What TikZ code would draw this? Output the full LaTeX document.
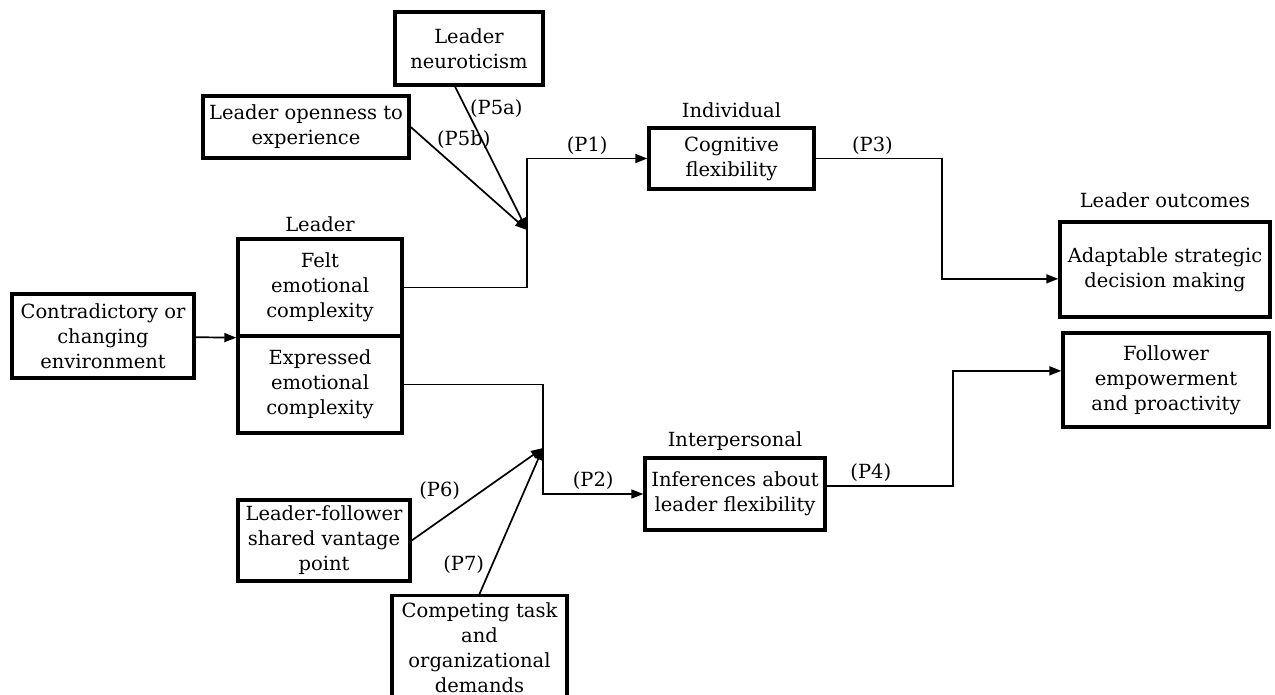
\documentclass[tikz,border=0pt]{standalone}
\usepackage{fontspec}
\setmainfont{DejaVu Serif}
\usetikzlibrary{arrows.meta,positioning}

\begin{document}
\begin{tikzpicture}[x=1pt, y=-1pt, line width=1.7pt,
    every node/.style={font=\fontsize{19.5}{25}\selectfont},
    box/.style={draw, line width=3.4pt, align=center, inner sep=2pt},
    >={Triangle[length=12pt,width=9pt]}]
    \useasboundingbox (0,0) rectangle (1275,695);

    \node [box, minimum width=148pt, minimum height=73pt] (neuro) at (469,48.5) {Leader\\neuroticism};
    \node [box, minimum width=206pt, minimum height=62pt] (open) at (306,127) {Leader openness to\\experience};
    \node [box, minimum width=182pt, minimum height=84pt] (env) at (103,336) {Contradictory or\\changing\\environment};
    \node [box, minimum width=164pt, minimum height=97pt] (felt) at (320,287.5) {Felt\\emotional\\complexity};
    \node [box, minimum width=164pt, minimum height=97pt] (expr) at (320,384.5) {Expressed\\emotional\\complexity};
    \node [box, minimum width=165pt, minimum height=61pt] (cog) at (731.5,158.5) {Cognitive\\flexibility};
    \node [box, minimum width=210pt, minimum height=95pt] (adapt) at (1165,269.5) {Adaptable strategic\\decision making};
    \node [box, minimum width=206pt, minimum height=94pt] (follow) at (1166,380) {Follower\\empowerment\\and proactivity};
    \node [box, minimum width=180pt, minimum height=72pt] (infer) at (735,494) {Inferences about\\leader flexibility};
    \node [box, minimum width=172pt, minimum height=81pt] (vantage) at (324,540.5) {Leader-follower\\shared vantage\\point};
    \node [box, minimum width=175pt, minimum height=104pt, anchor=north] (demands) at (479.5,594) {Competing task\\and\\organizational\\demands};

    \node [above=1pt of felt] (leaderlbl) {Leader};
    \node [above=4pt of cog] (indivlbl) {Individual};
    \node [above=8pt of adapt] (outlbl) {Leader outcomes};
    \node [above=2pt of infer] (interlbl) {Interpersonal};

    \coordinate (j1) at (527,230);
    \coordinate (j2) at (543,448);

    \path[->] (env) edge (felt.south west);

    \path[->] (neuro.250) edge node[right, pos=.15] {(P5a)} (j1);
    \path[->] (open.east) edge node[above right, pos=.22, inner sep=0pt] {(P5b)} (j1);
    \draw[->] (felt.east) -| (j1) |- (cog.west) node[above, pos=.75] {(P1)};

    \path[->] (vantage.east) edge node[above left, pos=.4] {(P6)} (j2);
    \path[->] (demands.north) edge node[left=4pt, pos=.2] {(P7)} (j2);
    \draw[->] (expr.east) -| (j2) |- (infer.west) node[above, pos=.75] {(P2)};

    \draw[->] (cog.east) -- ++(126,0) node[above, pos=.45] {(P3)} |- (adapt.185);
    \draw[->] (infer.5) -- ++(126,0) node[above, pos=.35] {(P4)} |- (follow.175);
\end{tikzpicture}
\end{document}
